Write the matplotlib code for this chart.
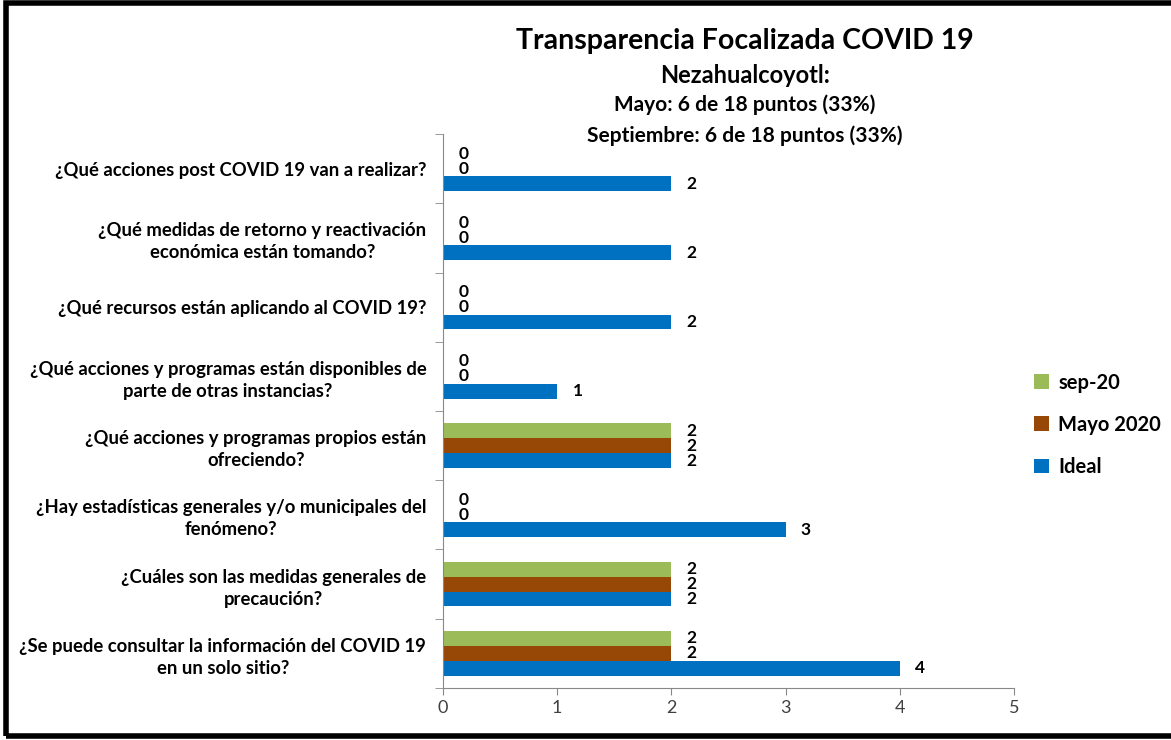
import matplotlib.pyplot as plt
from matplotlib.patches import Rectangle
import numpy as np

plt.rcParams["font.family"] = ["Lato", "DejaVu Sans"]

categories = [
    "¿Se puede consultar la información del COVID 19\nen un solo sitio?",
    "¿Cuáles son las medidas generales de\nprecaución?",
    "¿Hay estadísticas generales y/o municipales del\nfenómeno?",
    "¿Qué acciones y programas propios están\nofreciendo?",
    "¿Qué acciones y programas están disponibles de\nparte de otras instancias?",
    "¿Qué recursos están aplicando al COVID 19?",
    "¿Qué medidas de retorno y reactivación\neconómica están tomando?",
    "¿Qué acciones post COVID 19 van a realizar?",
]
ideal = [4, 2, 3, 2, 1, 2, 2, 2]
mayo = [2, 2, 0, 2, 0, 0, 0, 0]
sep = [2, 2, 0, 2, 0, 0, 0, 0]

series = [("Ideal", ideal, "#0070C0"), ("Mayo 2020", mayo, "#974706"), ("sep-20", sep, "#9BBB59")]

fig = plt.figure(figsize=(11.71, 7.4), dpi=100)
ax = fig.add_axes([0.3783, 0.0703, 0.4876, 0.7486])

y = np.arange(len(categories))
h = 0.215
handles = []
for k, (name, vals, col) in enumerate(series):
    pos = y + (k - 1) * h
    b = ax.barh(pos, vals, height=h, color=col, label=name)
    handles.append(b)
    for p, v in zip(pos, vals):
        ax.annotate(str(v), (v, p), xytext=(11, 0), textcoords="offset points",
                    ha="left", va="center", fontsize=12.5, fontweight="bold")

ax.set_xlim(0, 5)
ax.set_ylim(-0.5, len(categories) - 0.5)
ax.set_xticks(range(6))
ax.tick_params(axis="x", labelsize=13, colors="#404040", length=5, color="#888888")
ax.set_yticks(y)
ax.set_yticklabels(categories, fontsize=13.3, fontweight="bold", multialignment="center",
                   linespacing=1.35)
ax.tick_params(axis="y", length=0, pad=12)
ax.set_yticks(np.arange(-0.5, len(categories)), minor=True)
ax.tick_params(axis="y", which="minor", length=6, color="#888888")
for s in ["top", "right"]:
    ax.spines[s].set_visible(False)
ax.spines["left"].set_color("#888888")
ax.spines["bottom"].set_color("#888888")

ax.legend(handles[::-1], [s[0] for s in series[::-1]], loc="center left",
          bbox_to_anchor=(1.035, 0.475), borderaxespad=0, borderpad=0, frameon=False,
          prop={"weight": "bold", "size": 14.5},
          handlelength=0.75, handleheight=0.75, labelspacing=1.1, handletextpad=0.45)

fig.text(0.636, 0.945, "Transparencia Focalizada COVID 19", ha="center", va="center",
         fontsize=20.5, fontweight="bold")
fig.text(0.636, 0.898, "Nezahualcoyotl:", ha="center", va="center", fontsize=17, fontweight="bold")
fig.text(0.636, 0.859, "Mayo: 6 de 18 puntos (33%)", ha="center", va="center", fontsize=15, fontweight="bold")
fig.text(0.636, 0.816, "Septiembre: 6 de 18 puntos (33%)", ha="center", va="center", fontsize=15, fontweight="bold")

fig.patches.append(Rectangle((6 / 1171, 4 / 740), 1.2, 733 / 740, transform=fig.transFigure,
                             fill=False, edgecolor="black", linewidth=4))

fig.savefig("out.png", dpi=100)
